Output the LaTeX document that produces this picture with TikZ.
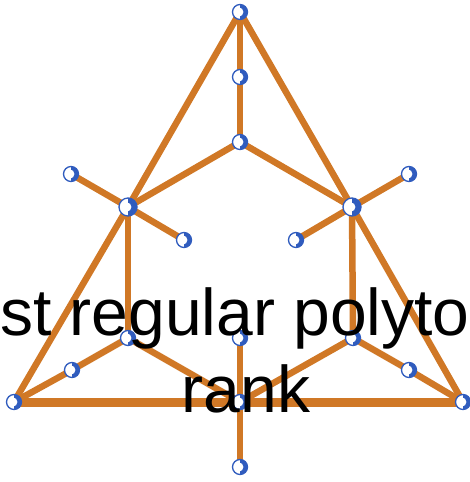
\documentclass[tikz,border=0pt]{standalone}
\usepackage{fontspec}
\setmainfont{Liberation Sans}
\definecolor{edgeor}{RGB}{208,120,38}
\definecolor{ballblue}{RGB}{48,92,190}
\tikzset{
  x=1pt,y=-1pt,
  ball/.style={circle,draw=ballblue,line width=1.3pt,fill=white,inner sep=0pt,minimum size=15pt,
    path picture={\fill[ballblue] (path picture bounding box.south) rectangle (path picture bounding box.north east);
      \fill[white] ([xshift=-1.2pt]path picture bounding box.center) circle[radius=4.6pt];}},
  bigball/.style={ball,minimum size=18pt},
  edge/.style={draw=edgeor,line width=6.5pt},
  baseedge/.style={draw=edgeor,line width=9pt},
  lbl/.style={anchor=base,inner sep=0pt,font=\fontsize{66}{77}\selectfont}
}
\begin{document}
\begin{tikzpicture}
\useasboundingbox (0,0) rectangle (470,482);
% coordinates of vertices
\coordinate (T) at (240,12);
\coordinate (T2) at (240,77);
\coordinate (C) at (240,142);
\coordinate (L1) at (128,207);
\coordinate (R1) at (352,207);
\coordinate (LS1) at (71,174);
\coordinate (LS2) at (184,240);
\coordinate (RS1) at (409,174);
\coordinate (RS2) at (296,240);
\coordinate (L3) at (128,338);
\coordinate (R3) at (353,338);
\coordinate (LM) at (72,370);
\coordinate (RM) at (409,370);
\coordinate (LV) at (14,402);
\coordinate (RV) at (463,402);
\coordinate (B) at (240,402);
\coordinate (M) at (240,338);
\coordinate (BB) at (240,467);
% edges
\draw[baseedge] (LV) -- (B) -- (RV);
\draw[edge,line join=round] (LV) -- (L1) -- (T) -- (R1) -- (RV);
\draw[edge] (T) -- (T2) -- (C);
\draw[edge] (C) -- (L1);
\draw[edge] (C) -- (R1);
\draw[edge] (L1) -- (LS1);
\draw[edge] (L1) -- (LS2);
\draw[edge] (R1) -- (RS1);
\draw[edge] (R1) -- (RS2);
\draw[edge] (L1) -- (L3);
\draw[edge] (R1) -- (R3);
\draw[edge] (L3) -- (LM) -- (LV);
\draw[edge] (R3) -- (RM) -- (RV);
\draw[edge] (L3) -- (B);
\draw[edge] (R3) -- (B);
\draw[edge] (M) -- (B) -- (BB);
% balls
\foreach \p in {T,T2,C,LS1,LS2,RS1,RS2,L3,R3,LM,RM,LV,RV,B,M,BB}
  \node[ball] (n\p) at (\p) {};
\node[bigball] (nL1) at (L1) {};
\node[bigball] (nR1) at (R1) {};
% text
\node[lbl] (t1) at (235,335) {st regular polyto};
\node[lbl] (t2) at (246,412) {rank};
\end{tikzpicture}
\end{document}
